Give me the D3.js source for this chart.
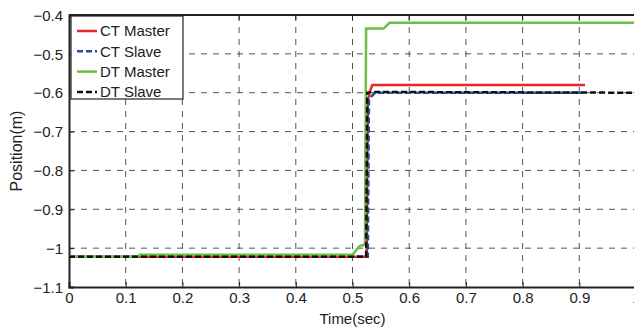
<!DOCTYPE html>
<html>
<head>
<meta charset="utf-8">
<script src="https://cdn.jsdelivr.net/npm/d3@7"></script>
<style>
  body { margin: 0; background: #fff; }
  text { font-family: "Liberation Sans", Arial, sans-serif; fill: #222; }
</style>
</head>
<body>
<div id="chart"></div>
<script>
// data
let xTicks = [0, 0.1, 0.2, 0.3, 0.4, 0.5, 0.6, 0.7, 0.8, 0.9, 1];
let yTicks = [-0.4, -0.5, -0.6, -0.7, -0.8, -0.9, -1, -1.1];
let seriesNames = ["CT Master", "CT Slave", "DT Master", "DT Slave"];

let ctMasterT = [0, 0.525, 0.527, 0.53, 0.535, 0.91];
let ctMasterV = [-1.022, -1.022, -0.62, -0.6, -0.58, -0.58];

let ctSlaveT = [0, 0.527, 0.529, 0.533, 0.54, 0.91];
let ctSlaveV = [-1.022, -1.022, -0.62, -0.61, -0.6, -0.6];

let dtMasterT = [0, 0.12, 0.125, 0.5, 0.512, 0.522, 0.524, 0.555, 0.565, 1.0];
let dtMasterV = [-1.022, -1.022, -1.017, -1.017, -0.995, -0.99, -0.435, -0.435, -0.42, -0.42];

let dtSlaveT = [0, 0.524, 0.526, 0.535, 1.0];
let dtSlaveV = [-1.022, -1.022, -0.6, -0.598, -0.6];

let svgWidth = 634;
let svgHeight = 332;
let margin = { top: 15, right: -2, bottom: 45, left: 69 };
let width = svgWidth - margin.left - margin.right;
let height = svgHeight - margin.top - margin.bottom;

let svg = d3.select("#chart").append("svg")
    .attr("width", svgWidth)
    .attr("height", svgHeight);

let g = svg.append("g")
    .attr("transform", `translate(${margin.left}, ${margin.top})`);

let x = d3.scaleLinear().domain([0, 1]).range([0, width]);
let y = d3.scaleLinear().domain([-1.1, -0.4]).range([height, 0]);

// grid
g.selectAll(".vgrid").data(xTicks.slice(1, -1)).enter().append("line")
    .attr("x1", d => x(d)).attr("x2", d => x(d))
    .attr("y1", 0).attr("y2", height)
    .attr("stroke", "#555").attr("stroke-width", 1)
    .attr("stroke-dasharray", "6,6");
g.selectAll(".hgrid").data(yTicks.slice(1, -1)).enter().append("line")
    .attr("x1", 0).attr("x2", width)
    .attr("y1", d => y(d)).attr("y2", d => y(d))
    .attr("stroke", "#555").attr("stroke-width", 1)
    .attr("stroke-dasharray", "6,6");

// axes
let xAxis = d3.axisBottom(x).tickValues(xTicks).tickSize(-5).tickPadding(5)
    .tickFormat(d => d3.format("")(d));
let yAxis = d3.axisLeft(y).tickValues(yTicks).tickSize(-5).tickPadding(6)
    .tickFormat(d => d3.format("")(d));

let gx = g.append("g").attr("transform", `translate(0, ${height})`).call(xAxis);
let gy = g.append("g").call(yAxis);
[gx, gy].forEach(a => {
    a.select(".domain").attr("stroke", "#222").attr("stroke-width", 2);
    a.selectAll(".tick line").attr("stroke", "#222");
    a.selectAll("text").attr("font-size", "15px").attr("fill", "#222")
        .attr("font-family", "'Liberation Sans', Arial, sans-serif");
});
gy.selectAll("text").attr("dy", "0.35em");

// top border
g.append("line").attr("x1", 0).attr("x2", width).attr("y1", 0).attr("y2", 0)
    .attr("stroke", "#222").attr("stroke-width", 2);
g.selectAll(".ttick").data(xTicks.slice(1, -1)).enter().append("line")
    .attr("x1", d => x(d)).attr("x2", d => x(d)).attr("y1", 0).attr("y2", 5)
    .attr("stroke", "#222");

// series
let series = [
    { t: ctMasterT, v: ctMasterV, color: "#e8262a", dash: null },
    { t: ctSlaveT, v: ctSlaveV, color: "#2b4f9e", dash: "6,3" },
    { t: dtMasterT, v: dtMasterV, color: "#6abf45", dash: null },
    { t: dtSlaveT, v: dtSlaveV, color: "#111", dash: "6,3" }
];

let line = d3.line().x(d => x(d[0])).y(d => y(d[1]));

series.forEach(s => {
    g.append("path")
        .datum(s.t.map((t, i) => [t, s.v[i]]))
        .attr("d", line)
        .attr("fill", "none")
        .attr("stroke", s.color)
        .attr("stroke-width", 2.5)
        .attr("stroke-dasharray", s.dash);
});

// legend
let legend = g.append("g").attr("transform", "translate(2, 1)");
legend.append("rect")
    .attr("width", 112).attr("height", 83)
    .attr("fill", "#fff").attr("stroke", "#222").attr("stroke-width", 1.2);
seriesNames.forEach((name, i) => {
    let ly = 15 + i * 20.3;
    legend.append("line")
        .attr("x1", 6).attr("x2", 26).attr("y1", ly).attr("y2", ly)
        .attr("stroke", series[i].color).attr("stroke-width", 2.5)
        .attr("stroke-dasharray", series[i].dash);
    legend.append("text")
        .attr("x", 29).attr("y", ly).attr("dy", "0.35em")
        .attr("font-size", "15px")
        .text(name);
});

// axis titles
svg.append("text")
    .attr("x", margin.left + x(0.5)).attr("y", 324)
    .attr("text-anchor", "middle").attr("font-size", "15px")
    .text("Time(sec)");
svg.append("text")
    .attr("transform", `translate(22, ${margin.top + height / 2}) rotate(-90)`)
    .attr("text-anchor", "middle").attr("font-size", "16px")
    .text("Position(m)");
</script>
</body>
</html>
